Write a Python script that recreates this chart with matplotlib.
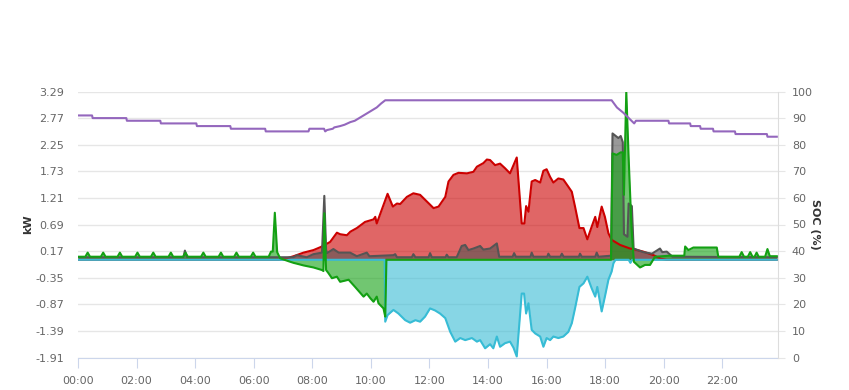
## Power flows and battery SOC over one day ##

import numpy as np
from matplotlib import pyplot as plt

plt.rcParams['font.family'] = ['DejaVu Sans']

# x values are hours after midnight, y values kW (left) or % (right)
solar_t = [0, 6.85, 7.07, 7.36, 7.7, 8.04, 8.33, 8.61, 8.84, 8.95, 9.18, 9.3, 9.52, 9.8, 10.09, 10.15,
           10.2, 10.57, 10.75, 10.89, 11.0, 11.23, 11.45, 11.68, 11.91, 12.14, 12.31, 12.54, 12.65, 12.82,
           12.99, 13.28, 13.5, 13.62, 13.84, 13.96, 14.07, 14.24, 14.41, 14.58, 14.75, 14.98, 15.15, 15.24,
           15.3, 15.38, 15.49, 15.61, 15.78, 15.89, 16.0, 16.12, 16.23, 16.4, 16.57, 16.74, 16.86, 16.97,
           17.12, 17.26, 17.39, 17.54, 17.66, 17.73, 17.88, 17.99, 18.11, 18.22, 18.51, 18.85, 18.96, 19.3,
           19.65, 19.9, 20.1, 23.86]
solar_kw = [0, 0, 0.02, 0.07, 0.14, 0.19, 0.26, 0.35, 0.53, 0.5, 0.48, 0.55, 0.62, 0.74, 0.79, 0.84,
            0.71, 1.29, 1.04, 1.1, 1.09, 1.23, 1.3, 1.27, 1.14, 1.01, 1.04, 1.23, 1.53, 1.66,
            1.70, 1.69, 1.72, 1.82, 1.89, 1.96, 1.95, 1.85, 1.88, 1.79, 1.69, 2.0, 0.71, 0.71,
            1.05, 0.94, 1.53, 1.56, 1.51, 1.74, 1.77, 1.62, 1.51, 1.59, 1.57, 1.43, 1.33, 1.04,
            0.62, 0.62, 0.40, 0.65, 0.84, 0.64, 1.04, 0.84, 0.52, 0.39, 0.29, 0.22, 0.21, 0.16,
            0.09, 0.02, 0, 0]

load_t = [0, 3.6, 3.65, 3.72, 6.9, 7.36, 7.47, 7.81, 8.04, 8.33, 8.41, 8.47, 8.5, 8.72, 8.9, 9.29, 9.52,
          9.86, 9.95, 10.77, 10.83, 10.89, 11.4, 11.45, 11.52, 11.97, 12.02, 12.08, 12.55, 12.59, 12.65,
          12.93, 13.1, 13.22, 13.33, 13.5, 13.73, 13.84, 14.07, 14.3, 14.38, 14.84, 14.89, 14.95, 15.45,
          15.49, 15.55, 16.02, 16.06, 16.12, 16.47, 16.52, 16.58, 17.1, 17.14, 17.2, 17.66, 17.71, 17.77,
          18.2, 18.25, 18.45, 18.53, 18.6, 18.64, 18.76, 18.8, 18.91, 18.97, 19.3, 19.6, 19.87, 19.95,
          20.1, 20.3, 23.86]
load_kw = [0.05, 0.05, 0.18, 0.05, 0.05, 0.05, 0.09, 0.05, 0.11, 0.14, 1.25, 0.2, 0.13, 0.21, 0.14, 0.14, 0.07,
           0.14, 0.07, 0.09, 0.11, 0.05, 0.05, 0.11, 0.05, 0.05, 0.13, 0.05, 0.05, 0.1, 0.05,
           0.05, 0.27, 0.29, 0.19, 0.22, 0.27, 0.2, 0.22, 0.32, 0.06, 0.06, 0.13, 0.06, 0.06,
           0.14, 0.06, 0.06, 0.12, 0.06, 0.06, 0.12, 0.06, 0.06, 0.12, 0.06, 0.06, 0.14, 0.06,
           0.08, 2.47, 2.38, 2.42, 2.3, 0.5, 0.45, 1.1, 1.05, 0.22, 0.15, 0.12, 0.22, 0.15,
           0.16, 0.06, 0.05]

grid_t = [0, 0.25, 0.33, 0.41, 0.78, 0.86, 0.94, 1.35, 1.43, 1.51, 1.95, 2.03, 2.11, 2.49, 2.57, 2.65,
          3.09, 3.17, 3.25, 3.59, 3.67, 3.75, 4.2, 4.28, 4.36, 4.8, 4.88, 4.96, 5.33, 5.41, 5.49,
          5.9, 5.98, 6.06, 6.51, 6.59, 6.65, 6.72, 6.8, 6.9, 7.2, 7.36, 7.5, 7.7, 8.04, 8.33, 8.38,
          8.41, 8.47, 8.55, 8.67, 8.84, 8.95, 9.24, 9.46, 9.75, 9.86, 9.98, 10.09, 10.2, 10.26, 10.43,
          10.49, 10.53, 18.2, 18.25, 18.39, 18.53, 18.6, 18.64, 18.72, 18.8, 18.9, 18.98, 19.19, 19.36,
          19.53, 19.7, 20.2, 20.7, 20.73, 20.84, 21.01, 21.81, 21.86, 22.58, 22.66, 22.74, 22.87, 22.95,
          23.03, 23.1, 23.17, 23.24, 23.46, 23.54, 23.62, 23.86]
grid_kw = [0.06, 0.06, 0.14, 0.06, 0.06, 0.14, 0.06, 0.06, 0.14, 0.06, 0.06, 0.14, 0.06, 0.06, 0.14, 0.06,
           0.06, 0.14, 0.06, 0.06, 0.14, 0.06, 0.06, 0.14, 0.06, 0.06, 0.14, 0.06, 0.06, 0.14, 0.06,
           0.06, 0.14, 0.06, 0.06, 0.16, 0.16, 0.92, 0.15, 0.03, -0.03, -0.06, -0.08, -0.11, -0.15, -0.2, -0.22,
           0.91, -0.2, -0.26, -0.36, -0.33, -0.43, -0.39, -0.53, -0.72, -0.66, -0.75, -0.82, -0.72, -0.85, -0.95,
           -1.11, 0, 0, 2.08, 2.05, 2.1, 2.1, 1.27, 3.29, 2.0, 0.6, -0.04, -0.15, -0.1,
           -0.1, 0.06, 0.08, 0.08, 0.26, 0.19, 0.24, 0.24, 0.06, 0.06, 0.15, 0.06, 0.06, 0.15,
           0.06, 0.06, 0.14, 0.06, 0.06, 0.21, 0.07, 0.07]

batt_t = [0, 10.47, 10.49, 10.57, 10.77, 10.94, 11.17, 11.34, 11.52, 11.68, 11.85, 12.02, 12.19, 12.36,
          12.54, 12.71, 12.88, 13.05, 13.22, 13.45, 13.62, 13.73, 13.9, 14.07, 14.18, 14.3, 14.41, 14.58,
          14.75, 14.87, 14.98, 15.15, 15.23, 15.3, 15.38, 15.49, 15.61, 15.78, 15.89, 16.0, 16.12, 16.23,
          16.4, 16.57, 16.74, 16.86, 16.97, 17.12, 17.26, 17.39, 17.54, 17.66, 17.73, 17.88, 17.99, 18.11,
          18.22, 18.28, 18.35, 18.8, 18.86, 18.92, 23.86]
batt_kw = [0, 0, -1.21, -1.08, -0.98, -1.05, -1.18, -1.23, -1.18, -1.21, -1.11, -0.95, -0.99, -1.05,
           -1.14, -1.41, -1.6, -1.53, -1.57, -1.53, -1.6, -1.57, -1.73, -1.65, -1.73, -1.5, -1.7, -1.63,
           -1.6, -1.72, -1.89, -0.66, -0.66, -1.05, -0.85, -1.37, -1.44, -1.5, -1.7, -1.53, -1.57, -1.5,
           -1.53, -1.5, -1.41, -1.24, -0.95, -0.53, -0.46, -0.33, -0.56, -0.72, -0.53, -1.01, -0.72, -0.39,
           -0.23, -0.07, 0, 0, -0.06, 0, 0]

soc_t = [0, 0.48, 0.5, 1.65, 1.67, 2.81, 2.83, 4.04, 4.06, 5.2, 5.22, 6.39, 6.41, 7.87, 7.9, 8.4, 8.44,
         8.5, 8.7, 8.75, 8.95, 9.1, 9.3, 9.45, 9.6, 9.75, 9.9, 10.05, 10.2, 10.35, 10.49,
         18.22, 18.4, 18.62, 18.99, 19.05, 20.16, 20.18, 20.9, 20.92,
         21.24, 21.26, 21.68, 21.7, 22.43, 22.45, 23.52, 23.54, 23.86]
soc_pct = [91, 91, 90, 90, 89, 89, 88, 88, 87, 87, 86, 86, 85, 85, 86, 86, 85,
           85.5, 86, 86.5, 87, 87.5, 88.5, 89, 90, 91, 92, 93, 94, 95.5, 96.7,
           96.7, 94, 92, 88, 89, 89, 88, 88, 87,
           87, 86, 86, 85, 85, 84, 84, 83, 83]

kw_ticks = [-1.91, -1.39, -0.87, -0.35, 0.17, 0.69, 1.21, 1.73, 2.25, 2.77, 3.29]
soc_ticks = list(range(0, 101, 10))
hour_ticks = list(range(0, 24, 2))

fig = plt.figure(figsize=(8.49, 3.9), dpi=100)
ax = fig.add_subplot(111)
fig.subplots_adjust(left=78/849, right=778/849, top=1 - 91.5/390, bottom=1 - 357.5/390)

# areas (fill at 0.6 opacity, line on top); green last so its zero line shows
series = [(solar_t, solar_kw, '#cc0000'),
          (load_t, load_kw, '#555555'),
          (batt_t, batt_kw, '#37bcd5'),
          (grid_t, grid_kw, '#13a013')]
for t, v, c in series:
	ax.fill_between(t, v, 0, color=c, alpha=0.6, lw=0)
	ax.plot(t, v, color=c, lw=1.5, solid_joinstyle='round')

ax.set_xlim(0, 23.9)
ax.set_ylim(-1.91, 3.29)
ax.set_yticks(kw_ticks)
ax.set_yticklabels(['%.2f' % v for v in kw_ticks])
ax.set_xticks(hour_ticks)
ax.set_xticklabels(['%02d:00' % h for h in hour_ticks])
ax.grid(axis='y', color='#e6e6e6', lw=1)
ax.set_axisbelow(True)
ax.tick_params(axis='y', length=0, pad=10, labelsize=8, labelcolor='#666666')
ax.tick_params(axis='x', length=7, color='#ccd6eb', pad=6, labelsize=8, labelcolor='#666666')
for s in ['top', 'left', 'right']:
	ax.spines[s].set_visible(False)
ax.spines['bottom'].set_color('#ccd6eb')
ax.set_ylabel('kW', fontweight='bold', fontsize=8, color='#333333')
ax.yaxis.set_label_coords(-0.064, 0.5)

# battery state of charge on the right axis
ax2 = ax.twinx()
ax2.plot(soc_t, soc_pct, color='#9467bd', lw=1.5)
ax2.set_ylim(0, 100)
ax2.set_yticks(soc_ticks)
ax2.tick_params(axis='y', length=5, color='#e6e6e6', pad=5, labelsize=8, labelcolor='#666666')
for s in ['top', 'left', 'bottom']:
	ax2.spines[s].set_visible(False)
ax2.spines['right'].set_color('#dddddd')
ax2.set_ylabel('SOC (%)', fontweight='bold', fontsize=8, color='#333333', rotation=270)
ax2.yaxis.set_label_coords(1.06, 0.5)

fig.savefig('out.png', dpi=100)
